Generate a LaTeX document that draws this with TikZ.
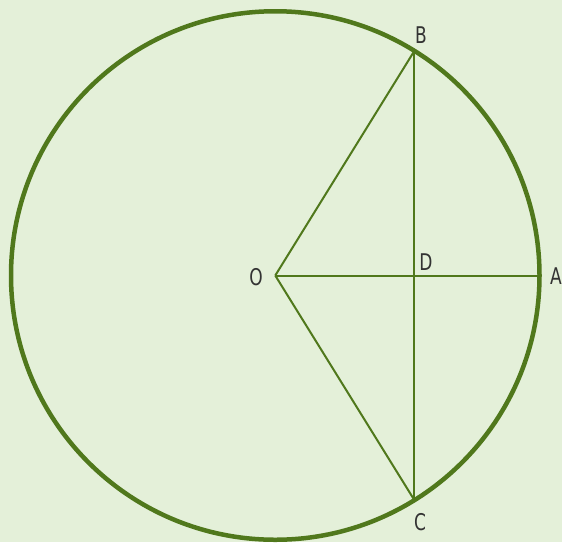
\documentclass[tikz,border=0pt]{standalone}
\usepackage{fontspec}
\setmainfont{DejaVu Sans}[FakeStretch=0.74]
\usepackage{tikz}
\usetikzlibrary{positioning, calc}
\definecolor{bggreen}{HTML}{E4F0D9}
\definecolor{linegreen}{HTML}{50781C}
\definecolor{labelgray}{HTML}{333333}

\begin{document}
\begin{tikzpicture}[x=1pt, y=-1pt,
    lbl/.style={text=labelgray, font=\fontsize{23}{23}\selectfont, inner sep=0pt},
    chord/.style={linegreen, line width=2pt}]
    % Background
    \fill[bggreen] (0,0) rectangle (562,542);
    \useasboundingbox (0,0) rectangle (562,542);

    % Points
    \coordinate (O) at (275.25, 275.5);
    \coordinate (A) at (539.5, 275.5);
    \coordinate (B) at (414, 51.5);
    \coordinate (C) at (414, 499.5);
    \coordinate (D) at (414, 275.5);

    % Draw circle
    \draw[linegreen, line width=4.5pt] (O) circle (264.25);

    % Draw radii and chord
    \draw[chord] (O) -- (B);
    \draw[chord] (O) -- (C);
    \draw[chord] (O) -- (A);
    \draw[chord] (B) -- (C);

    % Labels
    \node[lbl] (labB) at (421, 35) {B};
    \node[lbl] (labO) at (256, 277) {O};
    \node[lbl] (labD) at (426, 262) {D};
    \node[lbl] (labA) at (556, 276) {A};
    \node[lbl] (labC) at (420, 522) {C};
\end{tikzpicture}
\end{document}
